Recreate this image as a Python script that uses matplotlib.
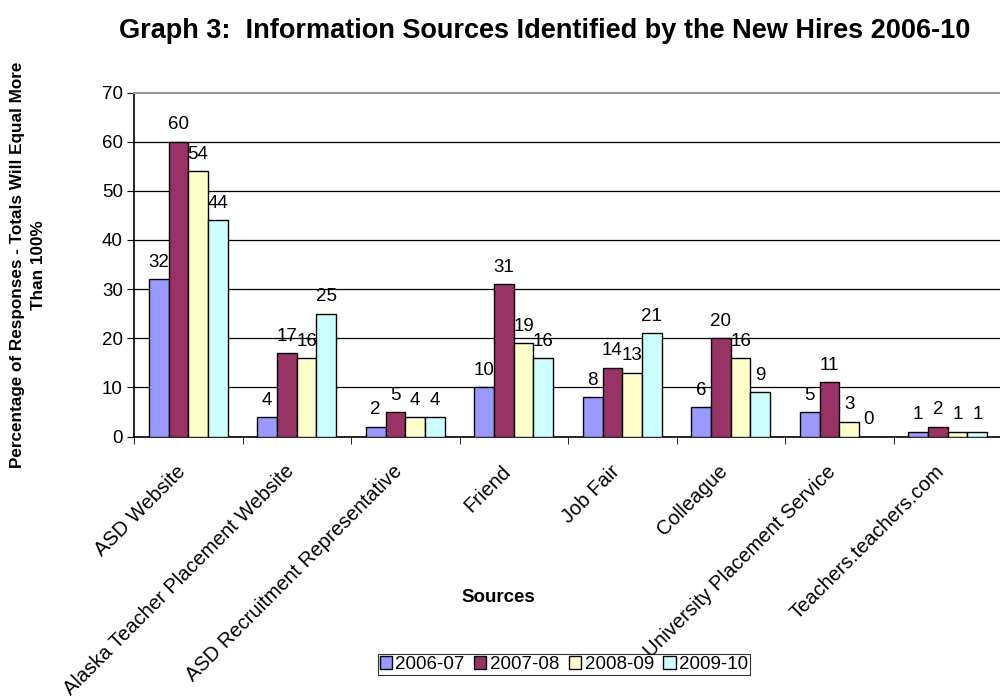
import matplotlib
matplotlib.use("Agg")
import matplotlib.pyplot as plt
import matplotlib.transforms as mtransforms
import numpy as np

plt.rcParams['font.family'] = ['Liberation Sans', 'DejaVu Sans']

categories = [
    "ASD Website",
    "Alaska Teacher Placement Website",
    "ASD Recruitment Representative",
    "Friend",
    "Job Fair",
    "Colleague",
    "University Placement Service",
    "Teachers.teachers.com",
]
series_names = ["2006-07", "2007-08", "2008-09", "2009-10"]
v_2006_07 = [32, 4, 2, 10, 8, 6, 5, 1]
v_2007_08 = [60, 17, 5, 31, 14, 20, 11, 2]
v_2008_09 = [54, 16, 4, 19, 13, 16, 3, 1]
v_2009_10 = [44, 25, 4, 16, 21, 9, 0, 1]
series_values = [v_2006_07, v_2007_08, v_2008_09, v_2009_10]
colors = ["#9999FF", "#993366", "#FFFFCC", "#CCFFFF"]

W, H = 1000, 698
fig = plt.figure(figsize=(W / 100, H / 100), dpi=100)
left_px, right_px, top_px, bottom_px = 134, 1002, 92.5, 436.5
ax = fig.add_axes([left_px / W, 1 - bottom_px / H,
                   (right_px - left_px) / W, (bottom_px - top_px) / H])

n = len(categories)
x = np.arange(n)
bw = 0.182
offsets = (np.arange(4) - 1.5) * bw
for vals, off, c, name in zip(series_values, offsets, colors, series_names):
    ax.bar(x + off, vals, width=bw, color=c, edgecolor="black",
           linewidth=1.0, label=name, zorder=3)
    for xi, v in zip(x + off, vals):
        ax.annotate(str(v), (xi, v), xytext=(0, 6), textcoords="offset points",
                    ha="center", va="bottom", fontsize=13.5, zorder=4)

ax.set_xlim(-0.5, n - 0.5)
ax.set_ylim(0, 70)
ax.set_yticks(range(0, 71, 10))
ax.tick_params(axis="y", labelsize=13.5, length=5, direction="out", pad=3)
for yv in range(10, 70, 10):
    ax.axhline(yv, color="black", linewidth=0.9, zorder=1)

ax.set_xticks(x)
ax.set_xticklabels(categories, rotation=45, ha="right", va="center",
                   rotation_mode="anchor", fontsize=14.5)
ax.tick_params(axis="x", length=0, pad=23)
shift = mtransforms.ScaledTranslation(-6 / 100, 0, fig.dpi_scale_trans)
for lbl in ax.get_xticklabels():
    lbl.set_transform(lbl.get_transform() + shift)
ax.set_xticks(np.arange(n + 1) - 0.5, minor=True)
ax.tick_params(axis="x", which="minor", length=5, direction="out")

ax.spines["right"].set_visible(False)
ax.spines["top"].set_color("#999999")
ax.spines["top"].set_linewidth(1.5)
ax.spines["left"].set_linewidth(1.2)
ax.spines["bottom"].set_linewidth(1.2)

fig.text(0.545, 1 - 31 / H, "Graph 3:  Information Sources Identified by the New Hires 2006-10",
         ha="center", va="center", fontsize=19.5, fontweight="bold")
fig.text(0.028, 1 - 265 / H, "Percentage of Responses - Totals Will Equal More\nThan 100%",
         ha="center", va="center", rotation=90, fontsize=12.3, fontweight="bold",
         multialignment="center", linespacing=1.5)
fig.text(0.498, 1 - 598 / H, "Sources", ha="center", va="center",
         fontsize=13.5, fontweight="bold")

leg = ax.legend(loc="center", bbox_to_anchor=(564 / W, 1 - 664.5 / H),
                bbox_transform=fig.transFigure, ncol=4, fontsize=13.5,
                frameon=True, fancybox=False, edgecolor="black",
                handlelength=0.65, handleheight=0.65, handletextpad=0.2,
                columnspacing=0.5, borderpad=0.1, borderaxespad=0)
leg.get_frame().set_linewidth(0.8)

fig.savefig("out.png", dpi=100)
